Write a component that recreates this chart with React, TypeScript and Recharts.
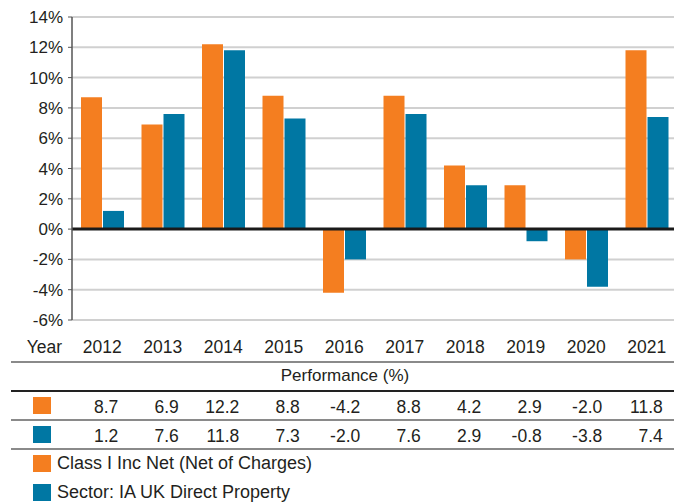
import React from "react";
import { BarChart, Bar, XAxis, YAxis, CartesianGrid, ReferenceLine } from "recharts";

const years = ["2012", "2013", "2014", "2015", "2016", "2017", "2018", "2019", "2020", "2021"];
const classInc = [8.7, 6.9, 12.2, 8.8, -4.2, 8.8, 4.2, 2.9, -2.0, 11.8];
const sector = [1.2, 7.6, 11.8, 7.3, -2.0, 7.6, 2.9, -0.8, -3.8, 7.4];
const yTicks = [-6, -4, -2, 0, 2, 4, 6, 8, 10, 12, 14];

const ORANGE = "#F47E20";
const BLUE = "#0077A3";
const TEXT = "#231F20";
const FONT = "'Liberation Sans', Arial, Helvetica, sans-serif";

const data = years.map((year, i) => ({ year, classInc: classInc[i], sector: sector[i] }));

function YearTick(props: any) {
  const { x, payload } = props;
  const i = payload.index;
  return (
    <g fontFamily={FONT} fontSize={17.5} fill={TEXT}>
      <text x={x} y={353} textAnchor="middle">{payload.value}</text>
      <text x={x + 16} y={413} textAnchor="end">{classInc[i].toFixed(1)}</text>
      <text x={x + 16} y={442} textAnchor="end">{sector[i].toFixed(1)}</text>
    </g>
  );
}

export default function App() {
  return (
    <div style={{ position: "absolute", left: 0, top: 0, width: 674, height: 503, overflow: "hidden", background: "#fff", fontFamily: FONT }}>
      <BarChart
        width={677}
        height={503}
        data={data}
        margin={{ top: 17, right: 0, left: 0, bottom: 0 }}
        barSize={21}
        barGap={1}
      >
        <CartesianGrid vertical={false} stroke="#d0d0d0" strokeWidth={2} />
        <XAxis dataKey="year" axisLine={false} tickLine={false} interval={0} height={183} tick={<YearTick />} />
        <YAxis
          width={72}
          domain={[-6, 14]}
          ticks={yTicks}
          tickFormatter={(v: number) => `${v}%`}
          axisLine={{ stroke: "#555", strokeWidth: 1.5 }}
          tickLine={{ stroke: "#555" }}
          tickSize={4}
          tickMargin={5}
          tick={{ fill: TEXT, fontSize: 17, fontFamily: FONT }}
        />
        <Bar dataKey="classInc" fill={ORANGE} isAnimationActive={false} />
        <Bar dataKey="sector" fill={BLUE} isAnimationActive={false} />
        <ReferenceLine y={0} stroke="#1a1a1a" strokeWidth={3} />
      </BarChart>
      <svg width={674} height={503} style={{ position: "absolute", left: 0, top: 0, pointerEvents: "none" }}>
        <g fontFamily={FONT} fontSize={17.5} fill={TEXT}>
          <text x={62} y={353} textAnchor="end">Year</text>
          <text x={345} y={381} textAnchor="middle" fontSize={17}>Performance (%)</text>
          <text x={57} y={469} fontSize={18}>Class I Inc Net (Net of Charges)</text>
          <text x={57} y={498} fontSize={18}>Sector: IA UK Direct Property</text>
        </g>
        <line x1={11} x2={674} y1={362} y2={362} stroke="#8a8a8a" strokeWidth={2} />
        <line x1={11} x2={674} y1={391} y2={391} stroke="#222" strokeWidth={2} />
        <line x1={11} x2={674} y1={420} y2={420} stroke="#8a8a8a" strokeWidth={2} />
        <line x1={11} x2={674} y1={449} y2={449} stroke="#8a8a8a" strokeWidth={2} />
        <rect x={33} y={397} width={18} height={17} fill={ORANGE} />
        <rect x={33} y={426} width={18} height={17} fill={BLUE} />
        <rect x={33} y={455} width={18} height={17} fill={ORANGE} />
        <rect x={33} y={484} width={18} height={17} fill={BLUE} />
      </svg>
    </div>
  );
}
